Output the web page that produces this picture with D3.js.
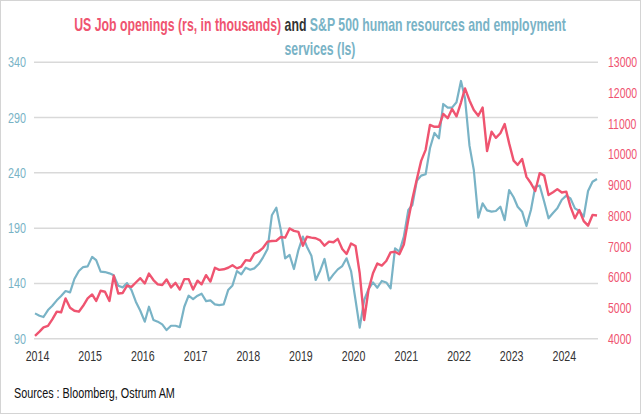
<!DOCTYPE html>
<html>
<head>
<meta charset="utf-8">
<script src="https://cdn.jsdelivr.net/npm/d3@7"></script>
<style>
  html, body { margin: 0; padding: 0; background: #fff; }
  svg { display: block; }
  text { font-family: "Liberation Sans", Arial, sans-serif; }
</style>
</head>
<body>
<svg id="chart" width="641" height="414"></svg>
<script>
// ---- Data (monthly, Jan 2014 .. Sep 2024) ----
const startMonth = "2014-01";
const jobOpenings = [
  4090,4230,4370,4420,4630,4880,4860,5310,5010,4910,4880,5070,
  5310,5440,5230,5560,5530,5230,6050,5470,5490,5730,5690,5830,
  5970,5800,6120,5910,5770,5750,5930,5670,5820,5600,5940,5940,
  5600,5890,5770,6070,5860,6310,6240,6260,6310,6390,6290,6350,
  6560,6540,6770,6840,6960,7160,7180,7190,7310,7290,7590,7510,
  7480,7030,7320,7290,7270,7200,7030,7160,7140,7250,6920,6760,
  7100,7020,6130,4610,5590,6130,6450,6380,6530,6810,6830,6750,
  7070,7880,8550,9190,9790,10150,10960,10900,10900,11320,11180,11480,
  11240,11690,12150,11760,11450,11260,11530,10110,10740,10540,10690,10990,
  10360,9800,9660,9850,9270,9060,8810,9390,9310,8680,8770,8870,
  8760,8790,8300,7920,8190,7830,7680,8030,8010
];
const spHR = [
  112.9,110.8,109.6,115.9,119.8,124.7,128.6,133.1,131.9,144.0,151.2,154.8,
  155.4,164.0,161.0,150.6,150.3,149.1,147.3,137.9,136.4,140.3,134.0,123.5,
  115.3,105.4,118.9,106.9,105.4,102.9,97.8,101.7,101.7,100.5,118.9,128.9,
  125.9,128.9,130.7,124.0,124.6,121.0,120.4,121.0,134.0,138.2,151.2,148.2,
  154.2,152.4,153.6,157.5,163.6,171.1,201.6,208.5,188.3,162.7,165.7,153.0,
  170.2,182.3,173.2,165.1,143.1,151.5,162.1,142.8,148.2,152.7,155.7,162.7,
  151.2,125.0,100.0,125.0,134.9,140.9,136.1,142.2,140.9,135.5,171.7,168.7,
  182.3,206.4,210.9,232.9,237.5,238.7,262.2,276.1,271.2,302.3,299.0,299.0,
  303.8,323.1,307.4,264.6,242.6,199.5,212.4,206.1,204.9,205.5,209.4,197.3,
  224.5,217.9,209.4,204.9,191.9,206.4,227.5,228.4,213.9,198.9,203.7,207.9,
  215.7,219.4,216.9,207.9,205.5,200.4,223.6,232.0,234.4
];
const leftTicks = [90, 140, 190, 240, 290, 340];
const rightTicks = [4000,5000,6000,7000,8000,9000,10000,11000,12000,13000];
const yearTicks = [2014,2015,2016,2017,2018,2019,2020,2021,2022,2023,2024];
const titleLine1 = [
  {text: "US Job openings (rs, in thousands)", cls: "red"},
  {text: " and ", cls: "dark"},
  {text: "S&P 500 human resources and employment", cls: "blue"}
];
const titleLine2 = "services (ls)";
const sourceText = "Sources : Bloomberg, Ostrum AM";

// ---- Styles ----
const RED = "#ef5470";
const BLUE = "#79b3c6";
const DARK = "#333333";
const GRID = "#d9d9d9";

// horizontally condense text (narrow typeface look) by scaling around its anchor
function condense(sel, factor) {
  sel.attr("transform", `scale(${factor},1)`);
}
// place a text at (cx, cy) and scale it horizontally to the target width
function fitText(sel, cx, cy, w) {
  const L = sel.node().getComputedTextLength();
  sel.attr("x", 0).attr("y", 0)
    .attr("transform", `translate(${cx},${cy}) scale(${(w / L).toFixed(4)},1)`);
}

const svg = d3.select("#chart");
const W = 641, H = 414;

svg.append("rect").attr("x", 0.5).attr("y", 0.5).attr("width", W - 1).attr("height", H - 1)
  .attr("fill", "#fff").attr("stroke", "#d4d4d4").attr("stroke-width", 1);

const parse = d3.timeParse("%Y-%m");
const t0 = parse(startMonth);
const dates = jobOpenings.map((_, i) => d3.timeMonth.offset(t0, i));

const x = d3.scaleTime().domain([dates[0], dates[dates.length - 1]]).range([35, 597]);
const yL = d3.scaleLinear().domain([90, 340]).range([338.7, 62.3]);
const yR = d3.scaleLinear().domain([4000, 13000]).range([338.7, 62.3]);

// gridlines (left ticks)
svg.append("g").selectAll("line").data(leftTicks).join("line")
  .attr("x1", 34).attr("x2", 598)
  .attr("y1", d => yL(d)).attr("y2", d => yL(d))
  .attr("stroke", GRID).attr("stroke-width", 1.5);

// left axis
const gL = svg.append("g").attr("transform", "translate(26,0)")
  .call(d3.axisLeft(yL).tickValues(leftTicks).tickSize(0).tickPadding(0));
gL.select(".domain").remove();
gL.selectAll("text").attr("fill", BLUE).style("font-size", "14px")
  .style("font-family", "'Liberation Sans', Arial, sans-serif");
condense(gL.selectAll("text"), 0.77);

// right axis
const gR = svg.append("g").attr("transform", "translate(608,0)")
  .call(d3.axisRight(yR).tickValues(rightTicks).tickSize(0).tickPadding(0).tickFormat(d3.format("d")));
gR.select(".domain").remove();
gR.selectAll("text").attr("fill", RED).style("font-size", "14px")
  .style("font-family", "'Liberation Sans', Arial, sans-serif");
condense(gR.selectAll("text"), 0.75);

// x axis
const gX = svg.append("g").attr("transform", "translate(2,351)")
  .call(d3.axisBottom(x).tickValues(yearTicks.map(y => new Date(y, 0, 1)))
    .tickSize(0).tickPadding(0).tickFormat(d3.timeFormat("%Y")));
gX.select(".domain").remove();
gX.selectAll("text").attr("fill", DARK).style("font-size", "14px")
  .style("font-family", "'Liberation Sans', Arial, sans-serif");
condense(gX.selectAll("text"), 0.76);

// lines
const lineL = d3.line().x((d, i) => x(dates[i])).y(d => yL(d));
const lineR = d3.line().x((d, i) => x(dates[i])).y(d => yR(d));

svg.append("path").datum(spHR).attr("d", lineL)
  .attr("fill", "none").attr("stroke", BLUE).attr("stroke-width", 2.2)
  .attr("stroke-linejoin", "round");
svg.append("path").datum(jobOpenings).attr("d", lineR)
  .attr("fill", "none").attr("stroke", RED).attr("stroke-width", 2.4)
  .attr("stroke-linejoin", "round");

// title
const colorOf = {red: RED, blue: BLUE, dark: DARK};
const t1 = svg.append("text").attr("text-anchor", "middle")
  .style("font-size", "18px").style("font-weight", "bold");
t1.selectAll("tspan").data(titleLine1).join("tspan")
  .attr("fill", d => colorOf[d.cls]).text(d => d.text);
fitText(t1, 320, 31, 492);
const t2 = svg.append("text").attr("text-anchor", "middle")
  .style("font-size", "18px").style("font-weight", "bold").attr("fill", BLUE)
  .text(titleLine2);
fitText(t2, 320, 55, 71);

// source
const src = svg.append("text").attr("fill", "#111")
  .style("font-size", "15px").text(sourceText);
fitText(src, 14, 398, 161);
</script>
</body>
</html>
